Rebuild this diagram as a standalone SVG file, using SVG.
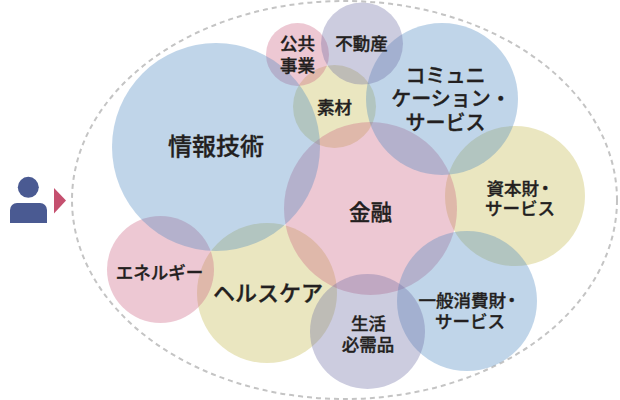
<svg xmlns="http://www.w3.org/2000/svg" width="620" height="400" viewBox="0 0 620 400">
<style>
.b{fill:#4b87c0;fill-opacity:.35}.p{fill:#cc6281;fill-opacity:.35}.y{fill:#c3b84b;fill-opacity:.35}.l{fill:#6d6da4;fill-opacity:.35}
text{font-family:"Noto Sans CJK JP","Noto Sans",sans-serif;font-weight:500;fill:#231f20;stroke:#231f20;stroke-width:.35px;text-anchor:middle}
.st{text-anchor:start}
.s17{font-size:17.5px}.s20{font-size:20px}.s21{font-size:21.500px}.s22{font-size:22px}.s24{font-size:24px}
</style>
<rect width="620" height="400" fill="#fff"/>
<g id="boundary"><ellipse cx="344.5" cy="200" rx="272.5" ry="199" fill="none" stroke="#c4c4c4" stroke-width="2" stroke-dasharray="5 4"/></g>
<g id="user"><circle cx="28.300" cy="187.300" r="10.500" fill="#4a5a92"/><path d="M10 223V210a7 7 0 0 1 7-7H40a7 7 0 0 1 7 7V223Z" fill="#4a5a92"/></g>
<g id="connectors"><path d="M54 188L66 200.500L54 213.500Z" fill="#c5506f"/></g>
<g id="n-capital"><circle class="y" cx="515" cy="196" r="70"/></g>
<g id="n-health"><circle class="y" cx="267" cy="293" r="70"/></g>
<g id="n-materials"><circle class="y" cx="334.500" cy="106.500" r="41.500"/></g>
<g id="n-finance"><circle class="p" cx="370.500" cy="208.500" r="86.500"/></g>
<g id="n-energy"><circle class="p" cx="160.500" cy="269.500" r="53.500"/></g>
<g id="n-utilities"><circle class="p" cx="297.500" cy="54.500" r="31.500"/></g>
<g id="n-it"><circle class="b" cx="216" cy="147" r="104"/></g>
<g id="n-comm"><circle class="b" cx="442" cy="99" r="76"/></g>
<g id="n-consumer"><circle class="b" cx="467" cy="301" r="70"/></g>
<g id="n-staples"><circle class="l" cx="367.500" cy="331.500" r="57.500"/></g>
<g id="n-realestate"><circle class="l" cx="362" cy="43.500" r="41"/></g>
<g id="labels">
<text class="s24" x="216" y="155">情報技術</text>
<text class="s21" x="370.500" y="220">金融</text>
<text class="s20" x="445.500" y="82.500">コミュニ</text>
<text class="s20" x="451" y="105.500">ケーション・</text>
<text class="s20" x="445.500" y="129.500">サービス</text>
<text class="s17 st" x="486.500" y="194.500">資本財<tspan dx="-2.500">・</tspan></text>
<text class="s17" x="520" y="214.500">サービス</text>
<text class="s17 st" x="418.500" y="306.500">一般消費財<tspan dx="-3">・</tspan></text>
<text class="s17" x="470" y="327.500">サービス</text>
<text class="s17" x="368.500" y="329.500">生活</text>
<text class="s17" x="368" y="350.500">必需品</text>
<text class="s22" x="268" y="301">ヘルスケア</text>
<text class="s17" x="159.500" y="278.500">エネルギー</text>
<text class="s17" x="334.500" y="113.500">素材</text>
<text class="s17" x="297.500" y="50">公共</text>
<text class="s17" x="297.500" y="71.500">事業</text>
<text class="s17" x="361.500" y="50">不動産</text>
</g>
</svg>
